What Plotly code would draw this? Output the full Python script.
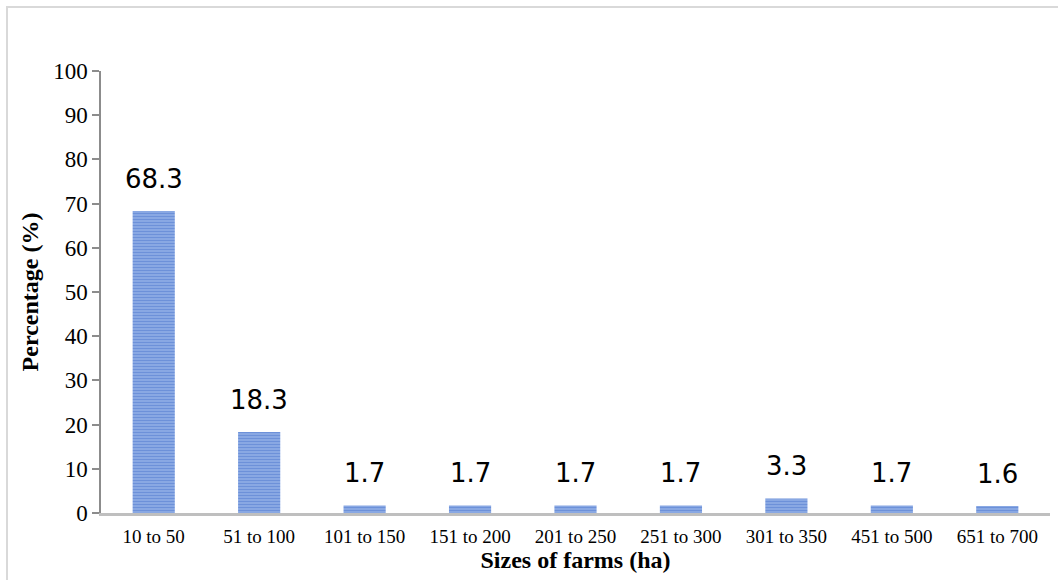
import plotly.graph_objects as go

# Farm size classes (ha) and share of farms in each class (%)
farm_sizes = ["10 to 50", "51 to 100", "101 to 150", "151 to 200", "201 to 250",
              "251 to 300", "301 to 350", "451 to 500", "651 to 700"]
percentages = [68.3, 18.3, 1.7, 1.7, 1.7, 1.7, 3.3, 1.7, 1.6]
y_ticks = [0, 10, 20, 30, 40, 50, 60, 70, 80, 90, 100]

serif = "Liberation Serif, Times New Roman, serif"

fig = go.Figure(
    go.Bar(
        x=farm_sizes,
        y=percentages,
        marker=dict(
            color="#4472c8",
            line=dict(width=0),
            pattern=dict(shape="-", fgcolor="#3f6cc8", bgcolor="#9bb6ea",
                         size=3, solidity=0.6),
        ),
        width=0.4,
        hoverinfo="x+y",
    )
)

# Value labels above each bar
for cat, val in zip(farm_sizes, percentages):
    fig.add_annotation(
        x=cat, y=val, text=f"{val:g}", showarrow=False,
        yanchor="bottom", yshift=15,
        font=dict(family="DejaVu Sans, sans-serif", size=26, color="#000000"),
    )

fig.update_layout(
    width=1058,
    height=580,
    margin=dict(l=101, r=8, t=71, b=67),
    paper_bgcolor="white",
    plot_bgcolor="white",
    showlegend=False,
    shapes=[
        dict(type="rect", xref="paper", yref="paper",
             x0=-94 / 949, x1=1.02, y0=-0.2, y1=1 + 64 / 442,
             line=dict(color="#d9d9d9", width=2), fillcolor="rgba(0,0,0,0)",
             layer="below"),
    ],
)

fig.update_xaxes(
    showline=True, linecolor="#bfbfbf", linewidth=3,
    showgrid=False, ticks="outside", ticklen=4, tickcolor="rgba(0,0,0,0)",
    tickfont=dict(family=serif, size=19, color="#000000"),
    title=dict(text="<b>Sizes of farms (ha)</b>", standoff=2,
               font=dict(family=serif, size=24, color="#000000")),
)

fig.update_yaxes(
    range=[0, 100], tickvals=y_ticks,
    showline=True, linecolor="#8c8c8c", linewidth=1.5,
    showgrid=False, zeroline=False,
    ticks="outside", ticklen=7, tickcolor="#8c8c8c", tickwidth=1.5,
    tickfont=dict(family=serif, size=23, color="#000000"),
    title=dict(text="<b>Percentage (%)</b>", standoff=8,
               font=dict(family=serif, size=24, color="#000000")),
)

fig.write_html("out.html")
